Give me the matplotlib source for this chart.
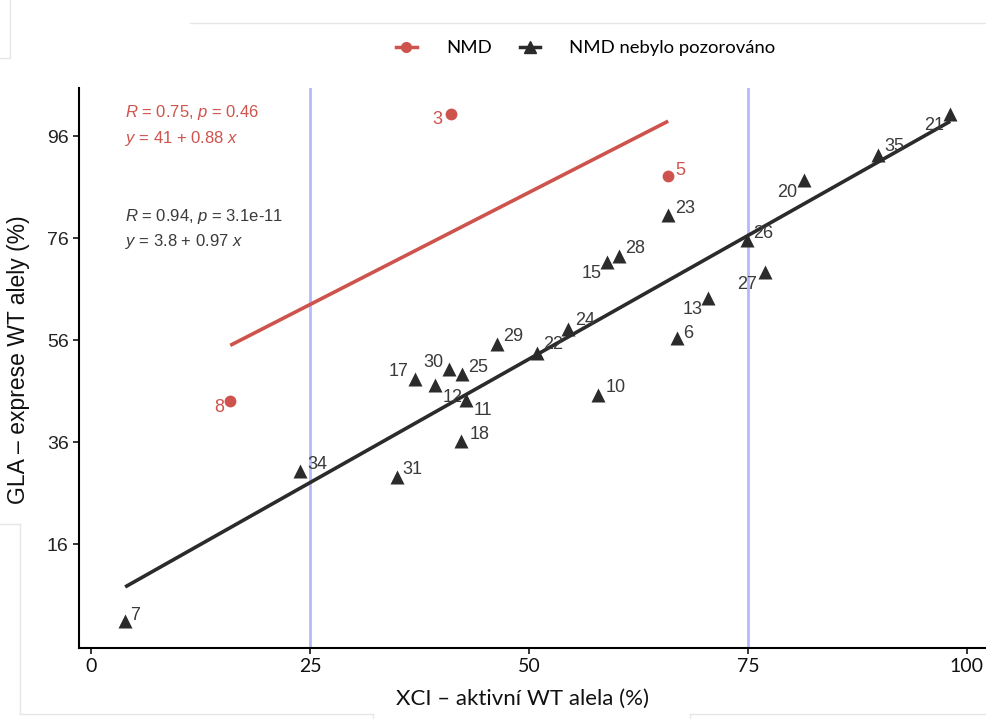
import matplotlib
matplotlib.use('Agg')
import matplotlib.pyplot as plt
from matplotlib.lines import Line2D

plt.rcParams['font.family'] = ['Liberation Sans', 'DejaVu Sans']
plt.rcParams['mathtext.fontset'] = 'custom'
plt.rcParams['mathtext.rm'] = 'Liberation Sans'
plt.rcParams['mathtext.it'] = 'Liberation Sans:italic'

# ---------------- data ----------------
nmd_ids = ['3', '5', '8']
nmd_x = [41.1, 65.9, 15.9]
nmd_y = [100.3, 88.2, 44.0]

non_ids = ['21', '35', '20', '23', '26', '28', '15', '27', '13', '6', '24', '22',
           '29', '10', '17', '30', '25', '12', '11', '18', '34', '31', '7']
non_x = [98.1, 89.8, 81.4, 65.9, 74.9, 60.3, 58.9, 76.9, 70.5, 66.9, 54.5, 50.9,
         46.3, 57.9, 37.0, 40.9, 42.4, 39.3, 42.8, 42.2, 23.9, 34.9, 3.9]
non_y = [100.3, 92.3, 87.4, 80.5, 75.6, 72.5, 71.3, 69.3, 64.2, 56.4, 58.2, 53.5,
         55.2, 45.2, 48.4, 50.3, 49.3, 47.2, 44.2, 36.2, 30.3, 29.1, 0.9]

fit_nmd = (41, 0.88)
fit_non = (3.8, 0.97)
stats_nmd = ['$\\it{R}$ = 0.75, $\\it{p}$ = 0.46', '$\\it{y}$ = 41 + 0.88 $\\it{x}$']
stats_non = ['$\\it{R}$ = 0.94, $\\it{p}$ = 3.1e-11', '$\\it{y}$ = 3.8 + 0.97 $\\it{x}$']

x_ticks = [0, 25, 50, 75, 100]
y_ticks = [16, 36, 56, 76, 96]
vlines_x = [25, 75]
legend_labels = ['NMD', 'NMD nebylo pozorováno']
xlabel = 'XCI – aktivní WT alela (%)'
ylabel = 'GLA – exprese WT alely (%)'

# label offsets in pixels (dx right, dy down) - layout only
px_off = {
    '3': (-14, 5), '5': (12, -6), '8': (-11, 6),
    '21': (-16, 11), '35': (17, -9), '20': (-17, 12), '23': (17, -7), '26': (16, -7),
    '28': (16, -8), '15': (-15, 11), '27': (-17, 12), '13': (-16, 11), '6': (11, -5),
    '24': (17, -9), '22': (16, -8), '29': (17, -8), '10': (18, -8), '17': (-17, -7),
    '30': (-16, -7), '25': (16, -7), '12': (17, 12), '11': (17, 10), '18': (19, -7),
    '34': (17, -7), '31': (16, -8), '7': (10, -5),
}

RED = '#CD534C'
BLK = '#2B2B2B'
GREY_TXT = '#3A3A3A'
CAL = ['Lato', 'DejaVu Sans']

fig = plt.figure(figsize=(9.87, 7.19), dpi=100)
ax = fig.add_axes([79 / 987, 1 - 648 / 719, 1 - 79 / 987, (648 - 88) / 719])

for xv in vlines_x:
    ax.axvline(xv, color='#9999FF', lw=2, alpha=0.7, zorder=1)

# fit lines
for xs, (a, b), c in [(nmd_x, fit_nmd, RED), (non_x, fit_non, BLK)]:
    x0, x1 = min(xs), max(xs)
    ax.plot([x0, x1], [a + b * x0, a + b * x1], color=c, lw=2.6, zorder=2,
            solid_capstyle='butt')

ax.plot(nmd_x, nmd_y, 'o', color=RED, ms=8.5, zorder=3, mec='none')
ax.plot(non_x, non_y, '^', color=BLK, ms=9.5, zorder=3, mec='none')

for ids, xs, ys, c in [(nmd_ids, nmd_x, nmd_y, RED), (non_ids, non_x, non_y, GREY_TXT)]:
    for i, xv, yv in zip(ids, xs, ys):
        dx, dy = px_off[i]
        ax.annotate(i, (xv, yv), xytext=(dx * 0.72, -dy * 0.72), textcoords='offset points',
                    ha='center', va='center', fontsize=13, color=c, zorder=4)

# stats text
for txt, ypx, c in [(stats_nmd[0], 113, RED), (stats_nmd[1], 138, RED),
                    (stats_non[0], 216, GREY_TXT), (stats_non[1], 241, GREY_TXT)]:
    fig.text(125 / 987, 1 - ypx / 719, txt, color=c, fontsize=12, ha='left', va='center')

ax.set_xlim(-1.37, 102.3)
ax.set_ylim(-4.4, 105.5)
ax.set_xticks(x_ticks)
ax.set_yticks(y_ticks)
ax.set_xticklabels([str(t) for t in x_ticks], family=CAL, fontsize=14, color='#111111')
ax.set_yticklabels([str(t) for t in y_ticks], fontsize=14, color='#222222')
ax.tick_params(length=4, width=1.1, color='black')
for s in ['top', 'right']:
    ax.spines[s].set_visible(False)
for s in ['left', 'bottom']:
    ax.spines[s].set_linewidth(1.5)

fig.text(523 / 987, 1 - 699 / 719, xlabel, family=CAL, fontsize=16, ha='center', va='center',
         color='#111111')
fig.text(19 / 987, 1 - 360 / 719, ylabel, fontsize=16.5, rotation=90, ha='center', va='center',
         color='#111111')

handles = [Line2D([0], [0], color=RED, marker='o', lw=2.5, ms=7),
           Line2D([0], [0], color=BLK, marker='^', lw=2.5, ms=8)]
fig.legend(handles, legend_labels, loc='center', bbox_to_anchor=(586 / 987, 1 - 48 / 719),
           ncol=2, frameon=False, prop={'family': CAL, 'size': 13.3}, handlelength=1.1,
           columnspacing=1.5, handletextpad=1.6)

# faint screenshot frame lines
art = dict(color='#E6E6E6', lw=1, transform=fig.transFigure, zorder=0)
def fl(x0, y0, x1, y1):
    fig.add_artist(Line2D([x0 / 987, x1 / 987], [1 - y0 / 719, 1 - y1 / 719], **art))
fl(190, 23, 987, 23)
fl(10, 0, 10, 58)
fl(0, 58, 10, 58)
fl(0, 524, 20, 524)
fl(20, 524, 20, 714)
fl(20, 714, 373, 714)
fl(373, 714, 373, 719)
fl(690, 714, 987, 714)
fl(690, 714, 690, 719)

fig.savefig('out.png', dpi=100)
